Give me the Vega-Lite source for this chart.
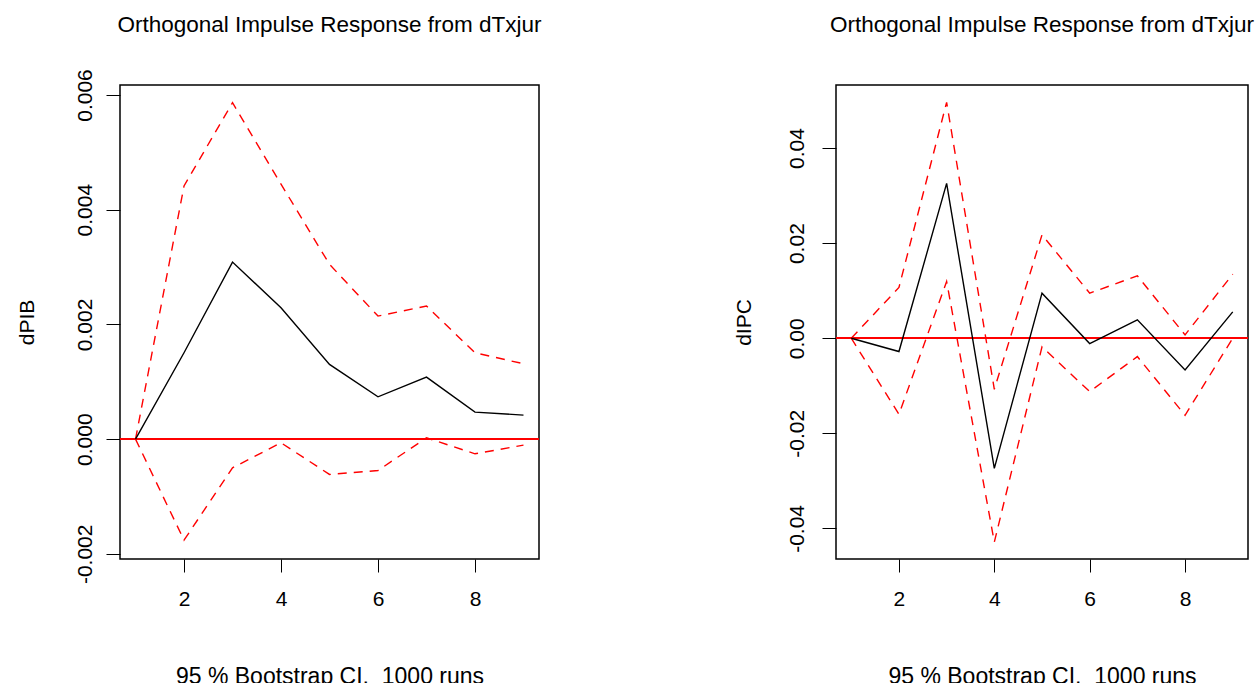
{
  "$schema": "https://vega.github.io/schema/vega-lite/v6.json",
  "background": "white",
  "padding": {"left": 15, "top": 12, "right": 0, "bottom": 0},
  "datasets": {
    "pib": [
      {"h": 1, "irf": 0, "lower": 0, "upper": 0},
      {"h": 2, "irf": 0.001506, "lower": -0.001762, "upper": 0.004413},
      {"h": 3, "irf": 0.003087, "lower": -0.0005, "upper": 0.005866},
      {"h": 4, "irf": 0.00229, "lower": -0.000064, "upper": 0.004446},
      {"h": 5, "irf": 0.001302, "lower": -0.000616, "upper": 0.003047},
      {"h": 6, "irf": 0.000738, "lower": -0.000547, "upper": 0.002145},
      {"h": 7, "irf": 0.001081, "lower": 0.000023, "upper": 0.00232},
      {"h": 8, "irf": 0.000471, "lower": -0.000256, "upper": 0.001506},
      {"h": 9, "irf": 0.000419, "lower": -0.000105, "upper": 0.001314}
    ],
    "ipc": [
      {"h": 1, "irf": 0, "lower": 0, "upper": 0},
      {"h": 2, "irf": -0.0028, "lower": -0.016, "upper": 0.01067},
      {"h": 3, "irf": 0.03256, "lower": 0.01193, "upper": 0.04961},
      {"h": 4, "irf": -0.02737, "lower": -0.04288, "upper": -0.01074},
      {"h": 5, "irf": 0.00947, "lower": -0.00182, "upper": 0.02175},
      {"h": 6, "irf": -0.00112, "lower": -0.01123, "upper": 0.00947},
      {"h": 7, "irf": 0.00386, "lower": -0.00386, "upper": 0.01312},
      {"h": 8, "irf": -0.00667, "lower": -0.01621, "upper": 0.0007},
      {"h": 9, "irf": 0.00554, "lower": 0, "upper": 0.01347}
    ]
  },
  "spacing": 189,
  "hconcat": [
    {
      "width": 419,
      "height": 474,
      "data": {"name": "pib"},
      "title": {"text": "Orthogonal Impulse Response from dTxjur", "fontSize": 22.5, "fontWeight": "normal", "font": "Liberation Sans", "color": "black", "anchor": "middle", "baseline": "alphabetic", "offset": 14},
      "layer": [
        {
          "mark": {"type": "rule", "color": "#ff0000", "strokeWidth": 1.5},
          "encoding": {"y": {"datum": 0, "type": "quantitative", "scale": {"domain": [-0.00209, 0.006174], "nice": false, "zero": false}}}
        },
        {
          "mark": {"type": "line", "color": "#ff0000", "strokeWidth": 1.4, "strokeDash": [9, 7]},
          "encoding": {
            "x": {"field": "h", "type": "quantitative"},
            "y": {"field": "upper", "type": "quantitative"}
          }
        },
        {
          "mark": {"type": "line", "color": "#ff0000", "strokeWidth": 1.4, "strokeDash": [9, 7]},
          "encoding": {
            "x": {"field": "h", "type": "quantitative"},
            "y": {"field": "lower", "type": "quantitative"}
          }
        },
        {
          "mark": {"type": "line", "color": "black", "strokeWidth": 1.4},
          "encoding": {
            "x": {"field": "h", "type": "quantitative", "scale": {"domain": [0.68, 9.32], "nice": false, "zero": false},
              "axis": {"title": "95 % Bootstrap CI, \u00a01000 runs", "values": [2, 4, 6, 8], "format": "d", "titleX": 209.5, "titleY": 124.5}},
            "y": {"field": "irf", "type": "quantitative", "scale": {"domain": [-0.00209, 0.006174], "nice": false, "zero": false},
              "axis": {"title": "dPIB", "values": [-0.002, 0, 0.002, 0.004, 0.006], "format": ".3f", "labelExpr": "replace(datum.label, '\u2212', '-')", "labelPadding": 15, "titleX": -87, "titleY": 237}}
          }
        }
      ]
    },
    {
      "width": 412,
      "height": 474,
      "data": {"name": "ipc"},
      "title": {"text": "Orthogonal Impulse Response from dTxjur", "fontSize": 22.5, "fontWeight": "normal", "font": "Liberation Sans", "color": "black", "anchor": "middle", "baseline": "alphabetic", "offset": 31},
      "layer": [
        {
          "mark": {"type": "rule", "color": "#ff0000", "strokeWidth": 1.5},
          "encoding": {"y": {"datum": 0, "type": "quantitative", "scale": {"domain": [-0.04644, 0.05326], "nice": false, "zero": false}}}
        },
        {
          "mark": {"type": "line", "color": "#ff0000", "strokeWidth": 1.4, "strokeDash": [9, 7]},
          "encoding": {
            "x": {"field": "h", "type": "quantitative"},
            "y": {"field": "upper", "type": "quantitative"}
          }
        },
        {
          "mark": {"type": "line", "color": "#ff0000", "strokeWidth": 1.4, "strokeDash": [9, 7]},
          "encoding": {
            "x": {"field": "h", "type": "quantitative"},
            "y": {"field": "lower", "type": "quantitative"}
          }
        },
        {
          "mark": {"type": "line", "color": "black", "strokeWidth": 1.4},
          "encoding": {
            "x": {"field": "h", "type": "quantitative", "scale": {"domain": [0.68, 9.32], "nice": false, "zero": false},
              "axis": {"title": "95 % Bootstrap CI, \u00a01000 runs", "values": [2, 4, 6, 8], "format": "d", "titleX": 206, "titleY": 124.5}},
            "y": {"field": "irf", "type": "quantitative", "scale": {"domain": [-0.04644, 0.05326], "nice": false, "zero": false},
              "axis": {"title": "dIPC", "values": [-0.04, -0.02, 0, 0.02, 0.04], "format": ".2f", "labelExpr": "replace(datum.label, '\u2212', '-')", "labelPadding": 19, "titleX": -86, "titleY": 237}}
          }
        }
      ]
    }
  ],
  "config": {
    "font": "Liberation Sans",
    "view": {"stroke": "black", "strokeWidth": 1.5},
    "axis": {
      "grid": false,
      "domain": false,
      "tickColor": "black",
      "tickWidth": 1,
      "labelColor": "black",
      "labelFont": "Liberation Sans",
      "labelFontSize": 21,
      "titleColor": "black",
      "titleFont": "Liberation Sans",
      "titleFontWeight": "normal"
    },
    "axisX": {
      "tickSize": 13,
      "labelPadding": 16,
      "labelBaseline": "top",
      "labelAngle": 0,
      "titleFontSize": 23,
      "titleBaseline": "alphabetic",
      "titleAlign": "center",
      "labelFlush": false,
      "labelOverlap": false
    },
    "axisY": {
      "tickSize": 14,
      "labelAngle": 270,
      "labelAlign": "center",
      "labelBaseline": "alphabetic",
      "titleFontSize": 21,
      "titleAngle": 270,
      "titleAlign": "center",
      "titleBaseline": "alphabetic",
      "labelFlush": false,
      "labelOverlap": false
    }
  }
}
